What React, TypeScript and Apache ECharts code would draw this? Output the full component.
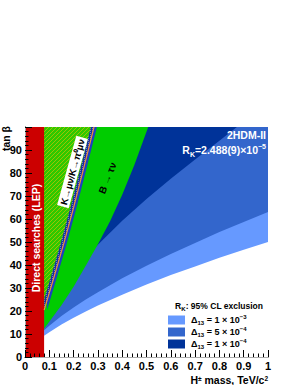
import React, { useEffect, useRef } from 'react';
import * as echarts from 'echarts';

// H+ mass (TeV/c^2) and tan(beta) values
const lepLimit = 0.0786;
const lepTop = 100;
const massGrid = [0.0786, 0.1, 0.15, 0.2, 0.25, 0.3, 0.4, 0.5, 0.6, 0.7, 0.8, 0.9, 1.0];
const tanLight = [9.2, 10.8, 14.1, 17.1, 19.8, 22.4, 27.1, 31.5, 35.6, 39.4, 43.1, 46.6, 50.0];
const tanMedium = [11.6, 13.6, 17.8, 21.5, 25.0, 28.2, 34.2, 39.7, 44.8, 49.6, 54.3, 58.7, 63.0];
const massDark = [0.0786, 0.1, 0.15, 0.2, 0.25, 0.3, 0.4, 0.5, 0.6, 0.7, 0.8, 0.872];
const tanDark = [20.0, 23.5, 30.8, 37.3, 43.3, 48.8, 59.2, 68.7, 77.5, 85.9, 94.0, 100];
const massBtau = [0.0786, 0.15, 0.2, 0.26, 0.3, 0.35, 0.4, 0.45, 0.507];
const tanBtau = [12.3, 22.5, 30.5, 41.5, 49.0, 59.0, 70.5, 83.5, 100];
const tanKmu = [20.4, 35, 49.5, 65, 81.5, 100];
const massKmuLine = [0.0786, 0.12, 0.16, 0.2, 0.24, 0.284];
const massKmuHatchEdge = [0.066, 0.107, 0.147, 0.187, 0.227, 0.271];
const massKmuBandEdge = [0.091, 0.132, 0.172, 0.212, 0.252, 0.296];

const legendLabels = [
  { mant: '1', exp: '\u22123', color: '#6699ff' },
  { mant: '5', exp: '\u22124', color: '#3366cc' },
  { mant: '1', exp: '\u22124', color: '#003399' },
];

const FONT = '"Liberation Sans", Arial, Helvetica, sans-serif';

const zip = (xs: number[], ys: number[]) => xs.map((x, i) => [x, ys[i]]);

function makePattern(size: number, draw: (ctx: CanvasRenderingContext2D) => void) {
  const c = document.createElement('canvas');
  c.width = size;
  c.height = size;
  const ctx = c.getContext('2d') as CanvasRenderingContext2D;
  draw(ctx);
  return { image: c.toDataURL(), repeat: 'repeat', imageWidth: size, imageHeight: size };
}

function areaAbove(name: string, data: number[][], color: any) {
  return {
    type: 'line',
    name,
    data,
    symbol: 'none',
    showSymbol: false,
    silent: true,
    lineStyle: { width: 0, opacity: 0 },
    areaStyle: { color, opacity: 1, origin: 'end' },
  };
}

export default function App() {
  const ref = useRef<HTMLDivElement>(null);
  useEffect(() => {
    const chart = echarts.init(ref.current!, null, { renderer: 'svg' });

    const T = 16;
    const hatch = makePattern(T, (ctx) => {
      ctx.fillStyle = '#2ec800';
      ctx.fillRect(0, 0, T, T);
      ctx.fillStyle = '#9cc400';
      for (let x = 0; x < T; x++)
        for (let y = 0; y < T; y++) if ((x + y) % 4 === 3) ctx.fillRect(x, y, 1, 1);
    });
    const checker = makePattern(T, (ctx) => {
      ctx.fillStyle = '#18309c';
      ctx.fillRect(0, 0, T, T);
      ctx.fillStyle = '#6f80c8';
      for (let x = 0; x < T; x += 2)
        for (let y = 0; y < T; y += 2) ctx.fillRect(x, y, 1, 1);
    });

    const tickLabel = {
      color: '#000',
      fontWeight: 'bold',
      fontFamily: FONT,
      fontSize: 11,
    };

    const option: any = {
      animation: false,
      backgroundColor: '#fff',
      grid: { left: 25, right: 30, top: 127, bottom: 28, containLabel: false },
      xAxis: [
        {
          type: 'value',
          min: 0,
          max: 1,
          interval: 0.1,
          position: 'bottom',
          z: 10,
          axisLine: { show: true, lineStyle: { color: '#000', width: 1 } },
          axisTick: { show: true, inside: true, length: 7, lineStyle: { color: '#000' } },
          minorTick: { show: true, splitNumber: 5, length: 3.5, lineStyle: { color: '#000' } },
          splitLine: { show: false },
          axisLabel: {
            ...tickLabel,
            margin: 3,
            formatter: (v: number) => String(Math.round(v * 10) / 10),
          },
        },
        {
          type: 'value',
          min: 0,
          max: 1,
          position: 'top',
          z: 10,
          axisLine: { show: true, lineStyle: { color: '#aaaaaa', width: 1 } },
          axisTick: { show: false },
          axisLabel: { show: false },
          splitLine: { show: false },
        },
      ],
      yAxis: [
        {
          type: 'value',
          min: 0,
          max: 100,
          interval: 10,
          position: 'left',
          z: 10,
          axisLine: { show: true, lineStyle: { color: '#000', width: 1 } },
          axisTick: { show: true, inside: true, length: 7, lineStyle: { color: '#000' } },
          minorTick: { show: true, splitNumber: 5, length: 3.5, lineStyle: { color: '#000' } },
          splitLine: { show: false },
          axisLabel: {
            ...tickLabel,
            margin: 3,
            formatter: (v: number) => (v >= 100 ? '' : String(v)),
          },
        },
        {
          type: 'value',
          min: 0,
          max: 100,
          position: 'right',
          z: 10,
          axisLine: { show: true, lineStyle: { color: '#aaaaaa', width: 1 } },
          axisTick: { show: false },
          axisLabel: { show: false },
          splitLine: { show: false },
        },
      ],
      series: [
        areaAbove('Δ13 = 1e-3', zip(massGrid, tanLight), '#6699ff'),
        areaAbove('Δ13 = 5e-4', zip(massGrid, tanMedium), '#3366cc'),
        areaAbove('Δ13 = 1e-4', zip(massDark, tanDark), '#003399'),
        areaAbove('B→τν', zip(massBtau, tanBtau), '#00cc00'),
        areaAbove('Kμ band', zip(massKmuBandEdge, tanKmu), '#1f3fc0'),
        areaAbove('Kμ strip', zip(massKmuLine, tanKmu), checker),
        areaAbove('K→μν/K→π0μν', zip(massKmuHatchEdge, tanKmu), hatch),
        {
          type: 'line',
          name: 'Kμ line',
          data: zip(massKmuLine, tanKmu),
          symbol: 'none',
          showSymbol: false,
          silent: true,
          lineStyle: { color: '#f08c3c', width: 1.2 },
        },
        {
          type: 'line',
          name: 'LEP',
          data: [[0, lepTop], [lepLimit, lepTop]],
          symbol: 'none',
          showSymbol: false,
          silent: true,
          lineStyle: { width: 0, opacity: 0 },
          areaStyle: { color: '#cc0000', opacity: 1, origin: 'start' },
        },
      ],
      graphic: [
        {
          type: 'text',
          x: 35.5,
          y: 238,
          rotation: Math.PI / 2,
          z: 100,
          style: {
            text: 'Direct searches (LEP)',
            fill: '#ffffff',
            fontSize: 10.5,
            fontWeight: 'bold',
            fontFamily: FONT,
            align: 'center',
            verticalAlign: 'middle',
          },
        },
        {
          type: 'text',
          x: 72.5,
          y: 172,
          rotation: 1.3,
          z: 100,
          style: {
            text: 'K\u2192\u03bc\u03bd/K\u2192\u03c0\u2070\u03bc\u03bd',
            fill: '#000',
            fontSize: 9.5,
            fontWeight: 'bold',
            fontFamily: FONT,
            align: 'center',
            verticalAlign: 'middle',
            backgroundColor: '#ffffff',
            padding: [1, 2, 1, 2],
          },
        },
        {
          type: 'text',
          x: 107.5,
          y: 178,
          rotation: 1.19,
          z: 100,
          style: {
            text: 'B \u2192 \u03c4\u03bd',
            fill: '#000',
            fontSize: 10,
            fontWeight: 'bold',
            fontFamily: FONT,
            align: 'center',
            verticalAlign: 'middle',
          },
        },
        {
          type: 'text',
          x: 266,
          y: 135,
          z: 100,
          style: {
            text: '2HDM-II',
            fill: '#ffffff',
            fontSize: 10.5,
            fontWeight: 'bold',
            fontFamily: FONT,
            align: 'right',
            verticalAlign: 'middle',
          },
        },
        {
          type: 'text',
          x: 266,
          y: 150,
          z: 100,
          style: {
            text: '{b|R}{sub|K}{b|=2.488(9)\u00d710}{sup|\u22125}',
            align: 'right',
            verticalAlign: 'middle',
            rich: {
              b: { fill: '#fff', fontSize: 10.5, fontWeight: 'bold', fontFamily: FONT, lineHeight: 15 },
              sub: { fill: '#fff', fontSize: 7, fontWeight: 'bold', fontFamily: FONT, lineHeight: 7, verticalAlign: 'bottom' },
              sup: { fill: '#fff', fontSize: 7, fontWeight: 'bold', fontFamily: FONT, lineHeight: 7, verticalAlign: 'top' },
            },
          },
        },
        {
          type: 'text',
          x: 6,
          y: 126,
          rotation: Math.PI / 2,
          z: 100,
          style: {
            text: 'tan \u03b2',
            fill: '#000',
            fontSize: 10.5,
            fontWeight: 'bold',
            fontFamily: FONT,
            align: 'right',
            verticalAlign: 'middle',
          },
        },
        {
          type: 'text',
          x: 268,
          y: 379.5,
          z: 100,
          style: {
            text: '{b|H}{sup|\u00b1}{b| mass, TeV/c}{sup|2}',
            align: 'right',
            verticalAlign: 'middle',
            rich: {
              b: { fill: '#000', fontSize: 10.5, fontWeight: 'bold', fontFamily: FONT, lineHeight: 10 },
              sup: { fill: '#000', fontSize: 6.5, fontWeight: 'bold', fontFamily: FONT, lineHeight: 5, verticalAlign: 'top' },
            },
          },
        },
        {
          type: 'text',
          x: 263,
          y: 306,
          z: 100,
          style: {
            text: '{b|R}{sub|K}{b|: 95% CL exclusion}',
            align: 'right',
            verticalAlign: 'middle',
            rich: {
              b: { fill: '#000', fontSize: 8.5, fontWeight: 'bold', fontFamily: FONT, lineHeight: 12 },
              sub: { fill: '#000', fontSize: 6, fontWeight: 'bold', fontFamily: FONT, lineHeight: 6, verticalAlign: 'bottom' },
            },
          },
        },
        ...legendLabels.flatMap((l, i) => [
          {
            type: 'rect',
            z: 100,
            shape: { x: 168, y: 315.5 + i * 12, width: 17, height: 9 },
            style: { fill: l.color },
          },
          {
            type: 'text',
            x: 191,
            y: 320 + i * 12,
            z: 100,
            style: {
              text: `{b|\u0394}{sub|13}{b| = ${l.mant} \u00d7 10}{sup|${l.exp}}`,
              align: 'left',
              verticalAlign: 'middle',
              rich: {
                b: { fill: '#000', fontSize: 9, fontWeight: 'bold', fontFamily: FONT, lineHeight: 12 },
                sub: { fill: '#000', fontSize: 6, fontWeight: 'bold', fontFamily: FONT, lineHeight: 6, verticalAlign: 'bottom' },
                sup: { fill: '#000', fontSize: 6, fontWeight: 'bold', fontFamily: FONT, lineHeight: 6, verticalAlign: 'top' },
              },
            },
          },
        ]),
      ],
    };

    chart.setOption(option);
    return () => chart.dispose();
  }, []);

  return (
    <div
      ref={ref}
      style={{ position: 'fixed', left: 0, top: 0, width: 298, height: 385, background: '#fff' }}
    />
  );
}
